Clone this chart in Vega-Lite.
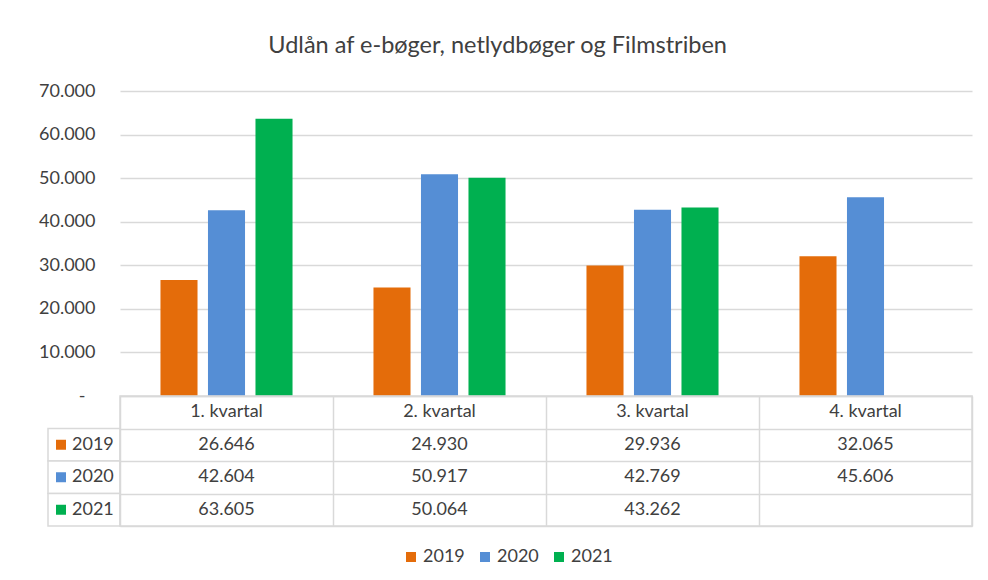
{
  "$schema": "https://vega.github.io/schema/vega-lite/v6.json",
  "padding": {"left": 38, "top": 33, "right": 10, "bottom": 10},
  "background": "white",
  "title": {"text": "Udlån af e-bøger, netlydbøger og Filmstriben", "anchor": "middle", "fontSize": 23.5, "font": "Lato", "fontWeight": "normal", "color": "#404040", "offset": 25, "dx": -8},
  "datasets": {
    "loans": [
      {"kvartal": "1. kvartal", "aar": "2019", "udlaan": 26646},
      {"kvartal": "1. kvartal", "aar": "2020", "udlaan": 42604},
      {"kvartal": "1. kvartal", "aar": "2021", "udlaan": 63605},
      {"kvartal": "2. kvartal", "aar": "2019", "udlaan": 24930},
      {"kvartal": "2. kvartal", "aar": "2020", "udlaan": 50917},
      {"kvartal": "2. kvartal", "aar": "2021", "udlaan": 50064},
      {"kvartal": "3. kvartal", "aar": "2019", "udlaan": 29936},
      {"kvartal": "3. kvartal", "aar": "2020", "udlaan": 42769},
      {"kvartal": "3. kvartal", "aar": "2021", "udlaan": 43262},
      {"kvartal": "4. kvartal", "aar": "2019", "udlaan": 32065},
      {"kvartal": "4. kvartal", "aar": "2020", "udlaan": 45606}
    ]
  },
  "data": {"name": "loans"},
  "columns": 2,
  "spacing": 0,
  "align": "each",
  "bounds": "flush",
  "concat": [
    {
      "width": 72,
      "height": 305,
      "view": {"stroke": null},
      "data": {"values": []},
      "mark": {"type": "text"},
      "encoding": {}
    },
    {
      "width": 852,
      "height": 305,
      "view": {"stroke": null},
      "mark": {"type": "bar"},
      "encoding": {
        "x": {"field": "kvartal", "type": "nominal", "scale": {"paddingInner": 0.38, "paddingOuter": 0.19}, "axis": null},
        "xOffset": {"field": "aar", "type": "nominal", "scale": {"paddingInner": 0.22}},
        "y": {
          "field": "udlaan", "type": "quantitative",
          "scale": {"domain": [0, 70000], "nice": false},
          "axis": {
            "values": [0, 10000, 20000, 30000, 40000, 50000, 60000, 70000],
            "grid": true, "gridColor": "#d9d9d9", "gridWidth": 1.5,
            "domain": false, "ticks": false,
            "labelPadding": {"condition": {"test": "datum.value == 0", "value": 35}, "value": 25},
            "labelFontSize": 18, "labelFont": "Lato", "labelColor": "#404040",
            "title": null,
            "labelExpr": "datum.value == 0 ? '-' : replace(format(datum.value, ','), ',', '.')"
          }
        },
        "color": {
          "field": "aar", "type": "nominal",
          "scale": {"domain": ["2019", "2020", "2021"], "range": ["#E46C0A", "#558ED5", "#00B050"]},
          "legend": {
            "title": null, "orient": "none", "direction": "horizontal",
            "legendX": 354, "legendY": 457,
            "symbolType": "square", "symbolSize": 100, "symbolStrokeWidth": 0,
            "labelFontSize": 18, "labelFont": "Lato", "labelColor": "#404040",
            "columnPadding": 11, "labelOffset": 3
          }
        }
      }
    },
    {
      "width": 72,
      "height": 130,
      "view": {"stroke": null},
      "transform": [{"aggregate": [{"op": "count", "as": "n"}], "groupby": ["aar"]}],
      "encoding": {
        "y": {"field": "aar", "type": "nominal", "scale": {"domain": ["hdr", "2019", "2020", "2021"], "paddingInner": 0, "paddingOuter": 0}, "axis": null}
      },
      "layer": [
        {"mark": {"type": "rect", "fill": "white", "stroke": "#d9d9d9", "strokeWidth": 1.5}},
        {"mark": {"type": "point", "shape": "square", "filled": true, "size": 100, "opacity": 1, "xOffset": -23}, "encoding": {"color": {"field": "aar", "type": "nominal"}}},
        {"mark": {"type": "text", "align": "left", "dx": -12, "fontSize": 18, "font": "Lato", "color": "#404040"}, "encoding": {"text": {"field": "aar"}}}
      ]
    },
    {
      "width": 852,
      "height": 130,
      "view": {"stroke": "#d9d9d9", "strokeWidth": 1.5},
      "encoding": {
        "x": {"field": "kvartal", "type": "nominal", "scale": {"paddingInner": 0, "paddingOuter": 0}, "axis": {"grid": true, "tickBand": "extent", "labels": false, "ticks": false, "domain": false, "title": null, "gridColor": "#d9d9d9", "gridWidth": 1.5}}
      },
      "layer": [
        {
          "mark": {"type": "text", "fontSize": 18, "font": "Lato", "color": "#404040"},
          "encoding": {
            "y": {"field": "aar", "type": "nominal", "scale": {"domain": ["hdr", "2019", "2020", "2021"], "paddingInner": 0, "paddingOuter": 0}, "axis": {"grid": true, "tickBand": "extent", "labels": false, "ticks": false, "domain": false, "title": null, "gridColor": "#d9d9d9", "gridWidth": 1.5}},
            "text": {"field": "udlaan", "type": "quantitative", "format": ","}
          }
        },
        {
          "transform": [{"aggregate": [{"op": "count", "as": "n"}], "groupby": ["kvartal"]}],
          "mark": {"type": "text", "fontSize": 18, "font": "Lato", "color": "#404040"},
          "encoding": {
            "y": {"datum": "hdr", "type": "nominal"},
            "text": {"field": "kvartal", "type": "nominal"}
          }
        }
      ]
    }
  ],
  "resolve": {"scale": {"x": "independent", "y": "independent"}},
  "config": {
    "locale": {"number": {"decimal": ",", "thousands": ".", "grouping": [3], "currency": ["", " kr."]}},
    "font": "Lato"
  }
}
